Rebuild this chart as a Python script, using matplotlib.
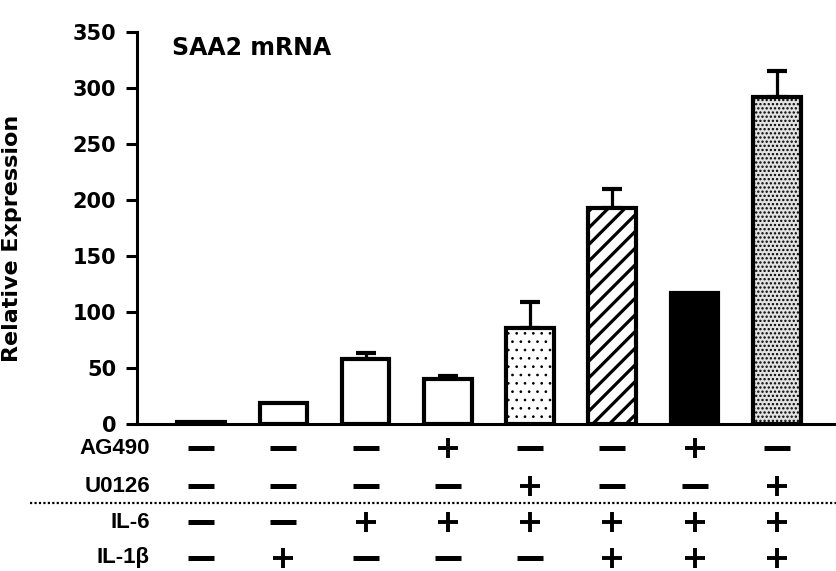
import matplotlib
matplotlib.use('Agg')
import matplotlib as mpl
import matplotlib.pyplot as plt
import matplotlib.transforms as mtransforms
from matplotlib.lines import Line2D

# ---- data ----
values = [2, 19, 58, 40, 86, 193, 117, 292]
errors = [0, 0, 5.5, 3, 22.5, 17, 0, 22.5]
yticks = [0, 50, 100, 150, 200, 250, 300, 350]
row_labels = ['AG490', 'U0126', 'IL-6', 'IL-1\u03b2']
ag490 = ['-', '-', '-', '+', '-', '-', '+', '-']
u0126 = ['-', '-', '-', '-', '+', '-', '-', '+']
il6 = ['-', '-', '+', '+', '+', '+', '+', '+']
il1b = ['-', '+', '-', '-', '-', '+', '+', '+']
rows = [ag490, u0126, il6, il1b]

# ---- styles ----
faces = ['white', 'white', 'white', 'white', 'white', 'white', 'black', '#e2e2e2']
hatches = [None, None, None, None, '..', '//', None, '....']
hatch_lw = [1, 1, 1, 1, 0.7, 2.3, 1, 1.1]

W, H = 836, 571
fig = plt.figure(figsize=(W / 100, H / 100), dpi=100)
ax = fig.add_axes([137 / W, 1 - 424 / H, 1 - 137 / W, (424 - 31.5) / H])

for i, v in enumerate(values):
    with mpl.rc_context({'hatch.linewidth': hatch_lw[i], 'hatch.color': 'black'}):
        ax.bar(i, v, width=0.58, color=faces[i], edgecolor='black',
               linewidth=3, hatch=hatches[i], zorder=2)
for i, (v, e) in enumerate(zip(values, errors)):
    if e > 0:
        ax.errorbar(i, v, yerr=[[0], [e]], fmt='none', ecolor='black',
                    elinewidth=2.3, capsize=7.2, capthick=3, zorder=1)

ax.set_xlim(-0.78, 7.72)
ax.set_ylim(0, 350)
ax.set_yticks(yticks)
ax.set_xticks([])
for s in ['top', 'right']:
    ax.spines[s].set_visible(False)
for s in ['left', 'bottom']:
    ax.spines[s].set_linewidth(2.2)
ax.tick_params(axis='y', length=8, width=2.2, pad=7, labelsize=15)
for lab in ax.get_yticklabels():
    lab.set_fontfamily('DejaVu Sans')
    lab.set_fontweight('bold')

ax.set_ylabel('Relative Expression', fontsize=16, fontweight='bold',
              family='DejaVu Sans')
ax.yaxis.set_label_coords((22.5 - 137) / (W - 137), 0.473)

ax.text((172 - 137) / (W - 137), (424 - 55) / (424 - 31.5), 'SAA2 mRNA',
        transform=ax.transAxes, fontsize=17, fontweight='bold',
        family='DejaVu Sans', va='baseline', ha='left')

# ---- treatment table ----
row_px = [448, 486, 522, 558]
trans = mtransforms.blended_transform_factory(ax.transData, fig.transFigure)
for lab, rpx, row in zip(row_labels, row_px, rows):
    yf = 1 - rpx / H
    fig.text(150 / W, yf, lab, ha='right', va='center', fontsize=16,
             fontweight='bold', family=['Liberation Sans', 'DejaVu Sans'])
    for i, s in enumerate(row):
        if s == '-':
            ax.plot([i], [yf], marker='_', markersize=19, mew=3.6,
                    color='black', transform=trans, clip_on=False)
        else:
            ax.plot([i], [yf], marker='+', markersize=14, mew=2.8,
                    color='black', transform=trans, clip_on=False)

fig.add_artist(Line2D([30 / W, 1.0], [1 - 503 / H, 1 - 503 / H],
                      transform=fig.transFigure, color='black',
                      linewidth=1.6, linestyle=(0, (1, 1))))

fig.savefig('out.png', dpi=100)
